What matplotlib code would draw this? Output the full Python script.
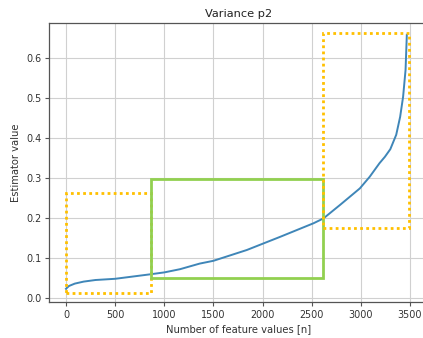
import matplotlib
matplotlib.use("Agg")
import matplotlib.pyplot as plt
from matplotlib.patches import Rectangle

# Sorted estimator values over the feature values
n_values = [0, 30, 90, 180, 300, 500, 850, 1000, 1160, 1360, 1500, 1840, 2180,
            2520, 2620, 2790, 2990, 3090, 3190, 3245, 3300, 3360, 3400, 3430,
            3455, 3468]
estimates = [0.023, 0.030, 0.036, 0.041, 0.045, 0.048, 0.059, 0.064, 0.072,
             0.086, 0.093, 0.120, 0.153, 0.187, 0.199, 0.233, 0.274, 0.303,
             0.337, 0.353, 0.372, 0.408, 0.453, 0.503, 0.570, 0.658]

# Highlighted regions: (x0, x1, y0, y1)
low_region = (0, 870, 0.012, 0.263)
mid_region = (870, 2615, 0.049, 0.297)
high_region = (2615, 3490, 0.174, 0.663)

fig = plt.figure(figsize=(4.23, 3.38), dpi=100)
ax = fig.add_axes([0.1158, 0.1065, 0.895, 0.8255])

ax.plot(n_values, estimates, color="#3f86b8", lw=1.4, zorder=3)

def region(bounds, color, ls, lw):
    x0, x1, y0, y1 = bounds
    ax.add_patch(Rectangle((x0, y0), x1 - x0, y1 - y0, fill=False,
                           edgecolor=color, linestyle=ls, lw=lw, zorder=4))

region(low_region, "#ffc000", (0, (1, 1.2)), 2.0)
region(mid_region, "#92d050", "-", 2.0)
region(high_region, "#ffc000", (0, (1, 1.2)), 2.0)

ax.set_xlim(-173, 3679)
ax.set_ylim(-0.01, 0.6875)
ax.set_xticks([0, 500, 1000, 1500, 2000, 2500, 3000, 3500])
ax.set_yticks([0.0, 0.1, 0.2, 0.3, 0.4, 0.5, 0.6])
ax.grid(True, color="#d0d0d0", lw=0.8)
ax.set_axisbelow(True)

for s in ax.spines.values():
    s.set_color("#555555")
    s.set_linewidth(0.9)
ax.tick_params(labelsize=6.9, colors="#555555", labelcolor="#333333",
               length=3, width=0.8, pad=2.5)

ax.set_title("Variance p2", fontsize=8.2, color="#222222", pad=4)
ax.set_xlabel("Number of feature values [n]", fontsize=7.2, color="#333333", labelpad=3)
ax.set_ylabel("Estimator value", fontsize=7.2, color="#333333", labelpad=4)

fig.savefig("out.png", dpi=100)
